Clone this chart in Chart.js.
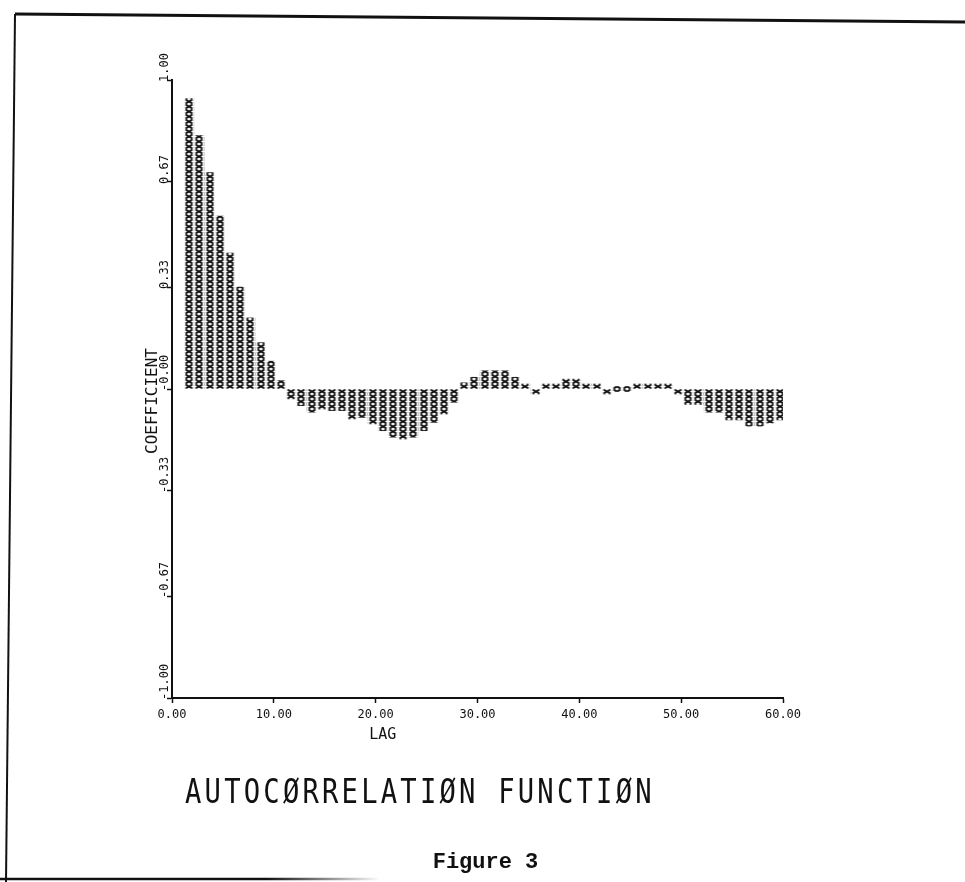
<!DOCTYPE html>
<html>
<head>
<meta charset="utf-8">
<title>Autocorrelation function</title>
<script src="https://cdn.jsdelivr.net/npm/chart.js@4.4.1/dist/chart.umd.min.js"></script>
<style>
  html, body { margin: 0; padding: 0; background: #fff; }
  #wrap { width: 965px; height: 882px; }
</style>
</head>
<body>
<div id="wrap"><canvas id="chart" width="965" height="882"></canvas></div>
<script>
// values
const lags = [
  1, 2, 3, 4, 5, 6, 7, 8, 9, 10,
  11, 12, 13, 14, 15, 16, 17, 18, 19, 20,
  21, 22, 23, 24, 25, 26, 27, 28, 29, 30,
  31, 32, 33, 34, 35, 36, 37, 38, 39, 40,
  41, 42, 43, 44, 45, 46, 47, 48, 49, 50,
  51, 52, 53, 54, 55, 56, 57, 58, 59, 60,
];
const coefficients = [
  0.94, 0.82, 0.70, 0.56, 0.44, 0.33, 0.23, 0.15, 0.09, 0.027,
  -0.032, -0.054, -0.075, -0.065, -0.07, -0.07, -0.097, -0.092, -0.113, -0.135,
  -0.156, -0.162, -0.156, -0.135, -0.108, -0.081, -0.043, 0.02, 0.038, 0.059,
  0.059, 0.059, 0.038, 0.016, -0.01, 0.016, 0.016, 0.032, 0.032, 0.016,
  0.01, -0.005, 0, 0, 0.016, 0.01, 0.01, 0.01, -0.01, -0.05,
  -0.05, -0.075, -0.075, -0.10, -0.10, -0.12, -0.12, -0.11, -0.10, -0.10,
];
const xTickLabels = ['0.00', '10.00', '20.00', '30.00', '40.00', '50.00', '60.00'];
const yTickLabels = ['-1.00', '-0.67', '-0.33', '-0.00', '0.33', '0.67', '1.00'];

const xTitle = 'LAG';
const yTitle = 'COEFFICIENT';
const plotTitle = 'AUTOCØRRELATIØN FUNCTIØN';
const figureCaption = 'Figure 3';

const INK = '#111';
const plotterFont = '"DejaVu Sans Mono", monospace';
// the printer put each column of x's just right of its lag
const COLUMN_SHIFT = 0.7;

// one "x" character of the printer, repeated up the column
const tile = document.createElement('canvas');
tile.width = 9;
tile.height = 5;
(function () {
  const g = tile.getContext('2d');
  g.strokeStyle = INK;
  g.lineWidth = 1.8;
  g.beginPath();
  g.moveTo(1, 0.4); g.lineTo(8, 4.6);
  g.moveTo(8, 0.4); g.lineTo(1, 4.6);
  g.stroke();
})();

function columnFill(c) {
  const xs = c.chart.scales.x, ys = c.chart.scales.y;
  if (c.type !== 'data' || !xs || !ys) return INK;
  const p = c.chart.ctx.createPattern(tile, 'repeat');
  p.setTransform(new DOMMatrix().translate(Math.round(xs.getPixelForValue(c.raw.x)) - 4.5, Math.round(ys.getPixelForValue(0))));
  return p;
}

const page = {
  id: 'page',
  beforeDraw(chart) {
    const { ctx, width, height } = chart;
    ctx.save();
    ctx.fillStyle = '#fff';
    ctx.fillRect(0, 0, width, height);
    // edges of the scanned sheet
    ctx.strokeStyle = INK;
    ctx.lineWidth = 3;
    ctx.beginPath();
    ctx.moveTo(15, 14); ctx.lineTo(width, 22);
    ctx.stroke();
    ctx.lineWidth = 2;
    ctx.beginPath();
    ctx.moveTo(15, 14); ctx.lineTo(6, height);
    ctx.stroke();
    const fade = ctx.createLinearGradient(0, 0, 380, 0);
    fade.addColorStop(0, INK);
    fade.addColorStop(0.7, INK);
    fade.addColorStop(1, 'rgba(0,0,0,0)');
    ctx.strokeStyle = fade;
    ctx.lineWidth = 2.5;
    ctx.beginPath();
    ctx.moveTo(0, height - 3); ctx.lineTo(380, height - 3);
    ctx.stroke();
    ctx.restore();
  },
  afterDraw(chart) {
    const { ctx, chartArea: a } = chart;
    const ys = chart.scales.y;

    // y tick labels: rotated, each one starting at its tick and running upward
    ctx.save();
    ctx.fillStyle = INK;
    ctx.font = '12px ' + plotterFont;
    ctx.textAlign = 'left';
    ctx.textBaseline = 'middle';
    ys.ticks.forEach((t, i) => {
      ctx.save();
      ctx.translate(a.left - 7, ys.getPixelForValue(t.value) + 2);
      ctx.rotate(-Math.PI / 2);
      ctx.fillText(yTickLabels[i], 0, 0);
      ctx.restore();
    });
    ctx.restore();

    // y axis title
    ctx.save();
    ctx.fillStyle = INK;
    ctx.font = '16px ' + plotterFont;
    ctx.textAlign = 'center';
    ctx.textBaseline = 'middle';
    ctx.translate(a.left - 19, (a.top + a.bottom) / 2 + 12);
    ctx.rotate(-Math.PI / 2);
    ctx.fillText(yTitle, 0, 0);
    ctx.restore();

    ctx.save();
    ctx.fillStyle = INK;
    ctx.font = '15px ' + plotterFont;
    ctx.textAlign = 'center';
    ctx.textBaseline = 'top';
    ctx.fillText(xTitle, a.left + (a.right - a.left) * 0.345, a.bottom + 30);

    // big plotter title
    ctx.font = '34px ' + plotterFont;
    ctx.textAlign = 'left';
    ctx.textBaseline = 'alphabetic';
    ctx.letterSpacing = '4px';
    ctx.translate(a.left + 13, a.bottom + 105);
    ctx.scale(0.8, 1);
    ctx.fillText(plotTitle, 0, 0);
    ctx.restore();

    ctx.save();
    ctx.fillStyle = INK;
    ctx.font = 'bold 22px "Liberation Mono", monospace';
    ctx.textAlign = 'center';
    ctx.textBaseline = 'alphabetic';
    ctx.fillText(figureCaption, (a.left + a.right) / 2 + 8, a.bottom + 170);
    ctx.restore();
  },
};

const tickFont = { family: plotterFont, size: 12 };

new Chart(document.getElementById('chart'), {
  type: 'bar',
  data: {
    datasets: [{
      label: 'coefficient',
      data: lags.map((lag, i) => ({ x: lag + COLUMN_SHIFT, y: coefficients[i] })),
      backgroundColor: columnFill,
      borderWidth: 0,
      barThickness: 9,
      minBarLength: 5,
    }],
  },
  options: {
    responsive: false,
    animation: false,
    devicePixelRatio: 1,
    layout: { padding: { left: 164, top: 80, right: 182, bottom: 144 } },
    scales: {
      x: {
        type: 'linear',
        min: 0,
        max: 60,
        offset: false,
        afterBuildTicks: s => { s.ticks = xTickLabels.map(l => ({ value: parseFloat(l) })); },
        afterFit: s => { s.height = 40; },
        ticks: {
          autoSkip: false, maxRotation: 0, padding: 5, color: INK, font: tickFont,
          callback: (v, i) => xTickLabels[i],
        },
        grid: { offset: false, drawOnChartArea: false, color: INK, tickLength: 5, tickWidth: 1.5 },
        border: { color: INK, width: 2 },
      },
      y: {
        min: -1,
        max: 1,
        afterBuildTicks: s => { s.ticks = yTickLabels.map(l => ({ value: parseFloat(l) })); },
        afterFit: s => { s.width = 8; },
        ticks: { display: false },
        grid: { drawOnChartArea: false, color: INK, tickLength: 5, tickWidth: 1.5 },
        border: { color: INK, width: 2 },
      },
    },
    plugins: {
      legend: { display: false },
      tooltip: { enabled: false },
      title: { display: false },
    },
  },
  plugins: [page],
});
</script>
</body>
</html>
